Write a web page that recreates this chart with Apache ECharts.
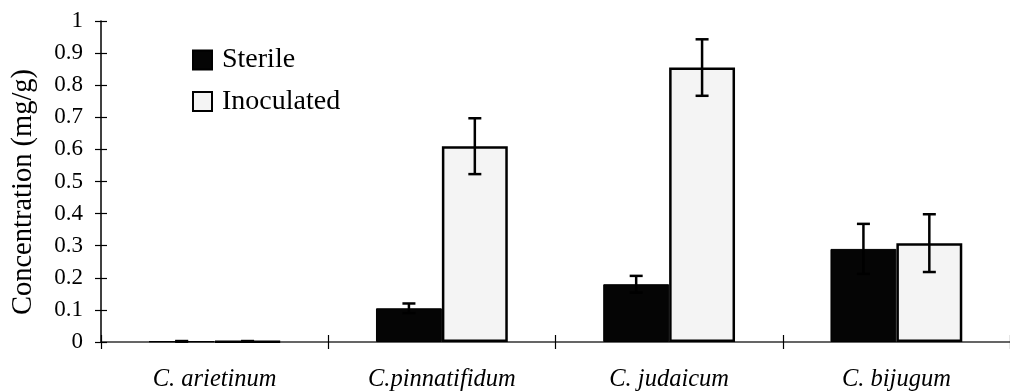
<!DOCTYPE html>
<html>
<head>
<meta charset="utf-8">
<script src="https://cdn.jsdelivr.net/npm/echarts@6/dist/echarts.min.js"></script>
<style>html,body{margin:0;padding:0;background:#fff;}#c{width:1010px;height:392px;}</style>
</head>
<body>
<div id="c"></div>
<script>
const categories = ['C. arietinum', 'C.pinnatifidum', 'C. judaicum', 'C. bijugum'];
const sterile = [0.002, 0.105, 0.18, 0.29];
const sterileErr = [0.001, 0.015, 0.026, 0.078];
const inoculated = [0.002, 0.61, 0.855, 0.308];
const inoculatedErr = [0.001, 0.087, 0.088, 0.09];

const FONT = '"Liberation Serif", "Times New Roman", serif';
const chart = echarts.init(document.getElementById('c'), null, {renderer: 'canvas'});

function errData(vals, errs) {
  return vals.map((v, i) => [i, v - errs[i], v + errs[i]]);
}
function errSeries(vals, errs, side) {
  return {
    type: 'custom',
    xAxisIndex: 0, yAxisIndex: 0,
    z: 10,
    silent: true,
    data: errData(vals, errs),
    renderItem: function (params, api) {
      const x = api.value(0);
      const lo = api.coord([x, api.value(1)]);
      const hi = api.coord([x, api.value(2)]);
      const bw = api.size([1, 0])[0] * 0.29;
      const cx = lo[0] + side * bw / 2;
      const cap = 6.5;
      const style = {stroke: '#000', lineWidth: 2.5, fill: null};
      return {
        type: 'group',
        children: [
          {type: 'line', shape: {x1: cx, y1: lo[1], x2: cx, y2: hi[1]}, style},
          {type: 'line', shape: {x1: cx - cap, y1: hi[1], x2: cx + cap, y2: hi[1]}, style},
          {type: 'line', shape: {x1: cx - cap, y1: lo[1], x2: cx + cap, y2: lo[1]}, style}
        ]
      };
    }
  };
}

const option = {
  backgroundColor: '#fff',
  animation: false,
  textStyle: {fontFamily: FONT, color: '#000'},
  grid: {left: 101, right: -7, top: 21, bottom: 50, containLabel: false},
  legend: {
    orient: 'vertical',
    left: 187, top: 41,
    icon: 'rect',
    itemWidth: 19, itemHeight: 19,
    itemGap: 13.5,
    textStyle: {fontFamily: FONT, fontSize: 28, lineHeight: 28, color: '#000', padding: [0, 0, 0, 5]},
    data: ['Sterile', 'Inoculated']
  },
  xAxis: [{
    type: 'category',
    data: categories,
    axisLine: {lineStyle: {color: '#333', width: 1.5}},
    axisTick: {show: true, inside: false, length: 7, lineStyle: {color: '#000', width: 1.2}},
    axisLabel: {fontFamily: FONT, fontSize: 24.5, fontStyle: 'italic', color: '#000', margin: 25}
  }, {
    type: 'category',
    data: categories,
    position: 'bottom',
    axisLine: {show: false},
    axisTick: {show: true, inside: true, length: 7, lineStyle: {color: '#000', width: 1.2}},
    axisLabel: {show: false}
  }],
  yAxis: [{
    type: 'value',
    min: 0, max: 1, interval: 0.1,
    name: 'Concentration (mg/g)',
    nameLocation: 'middle',
    nameGap: 63,
    nameTextStyle: {fontFamily: FONT, fontSize: 28.5, color: '#000', padding: [0, 21, 0, 0]},
    splitLine: {show: false},
    axisLine: {show: true, lineStyle: {color: '#000', width: 1.5}},
    axisTick: {show: true, inside: false, length: 6, lineStyle: {color: '#000', width: 1.2}},
    axisLabel: {fontFamily: FONT, fontSize: 23, color: '#000', margin: 18,
      formatter: v => String(Math.round(v * 10) / 10)}
  }, {
    type: 'value',
    min: 0, max: 1, interval: 0.1,
    position: 'left',
    splitLine: {show: false},
    axisLine: {show: false},
    axisTick: {show: true, inside: true, length: 6, lineStyle: {color: '#000', width: 1.2}},
    axisLabel: {show: false}
  }],
  series: [{
    name: 'Sterile',
    type: 'bar',
    data: sterile,
    barWidth: '29%',
    barGap: '0%',
    itemStyle: {color: '#050505', borderColor: '#000', borderWidth: 1}
  }, {
    name: 'Inoculated',
    type: 'bar',
    data: inoculated,
    barWidth: '29%',
    barGap: '0%',
    itemStyle: {color: '#f4f4f4', borderColor: '#000', borderWidth: 2.5}
  },
  errSeries(sterile, sterileErr, -1),
  errSeries(inoculated, inoculatedErr, 1)
  ]
};
chart.setOption(option);
</script>
</body>
</html>
